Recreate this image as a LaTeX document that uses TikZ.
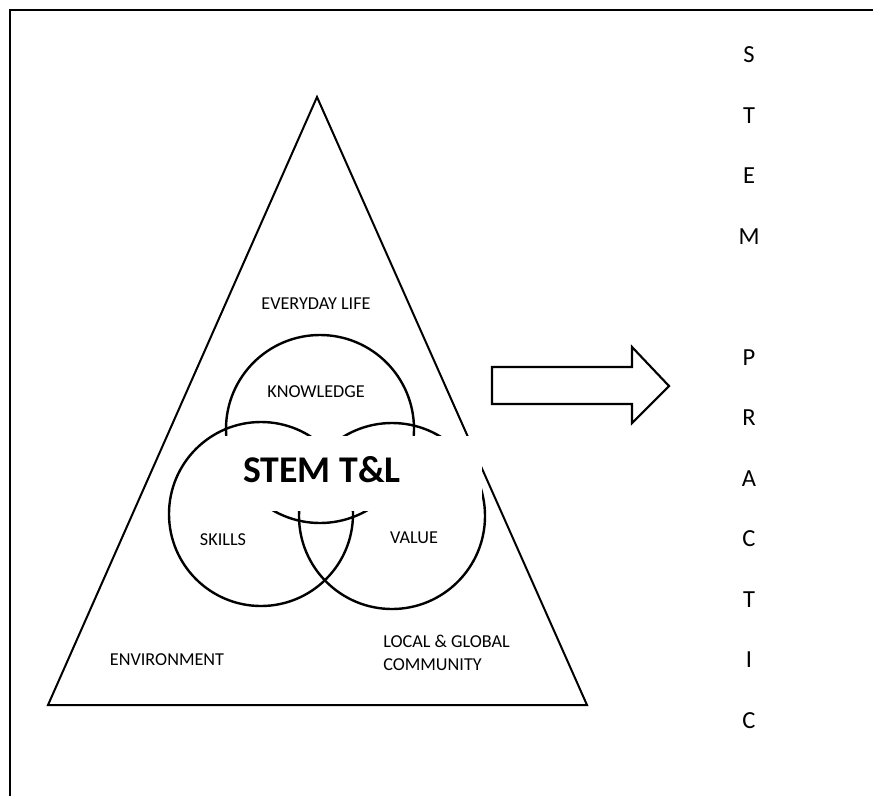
\documentclass[tikz,border=0pt]{standalone}
\usepackage{fontspec}
\setmainfont{Carlito}
\begin{document}
\begin{tikzpicture}[x=0.75pt,y=-0.75pt,
  lbl/.style={inner sep=0pt,font=\fontsize{13.65}{16}\selectfont},
  col/.style={inner sep=0pt,font=\fontsize{18.4}{22}\selectfont},
  ring/.style={line width=1.8pt},
  edge/.style={line width=1.5pt,line join=miter}]
\useasboundingbox (0,0) rectangle (873,796);
\fill[white] (0,0) rectangle (873,796);
% frame (top and left only)
\coordinate (fl) at (10,796);
\coordinate (fc) at (10,10);
\coordinate (fr) at (873,10);
\draw[line width=2pt] (fl) -- (fc) -- (fr);
% triangle
\coordinate (apex) at (317,97);
\coordinate (bl) at (48,705);
\coordinate (br) at (587,705);
\draw[edge] (apex) -- (bl) -- (br) -- cycle;
% circles
\coordinate (ck) at (320,429);
\coordinate (cs) at (261,514);
\coordinate (cv) at (392,516);
\draw[ring] (ck) circle[radius=70.5pt];
\draw[ring] (cs) circle[radius=69pt];
\draw[ring] (cv) circle[radius=69.75pt];
% white text box
\fill[white] (218,436) rectangle (482,511);
\node[inner sep=0pt,font=\fontsize{28.3}{32}\selectfont\bfseries] (stem) at (322,470) {STEM T\&L};
% labels
\node[lbl] (life) at (316,304) {EVERYDAY LIFE};
\node[lbl] (know) at (316,392) {KNOWLEDGE};
\node[lbl] (skills) at (223,540) {SKILLS};
\node[lbl] (value) at (414,538) {VALUE};
\node[lbl] (env) at (167,660) {ENVIRONMENT};
\node[lbl,anchor=west] (local) at (383,641) {LOCAL \& GLOBAL};
\node[lbl,anchor=west] (comm) at (383,665) {COMMUNITY};
% block arrow
\draw[line width=1.6pt,line join=miter]
  (492,367) -- (632,367) -- (632,347) -- (669,386) -- (632,423) -- (632,404) -- (492,404) -- cycle;
% letter column
\foreach \ch/\k in {S/0,T/1,E/2,M/3,P/5,R/6,A/7,C/8,T/9,I/10,C/11}{
  \node[col] (l\k) at (749,{55+60.5*\k}) {\ch};
}
\end{tikzpicture}
\end{document}
